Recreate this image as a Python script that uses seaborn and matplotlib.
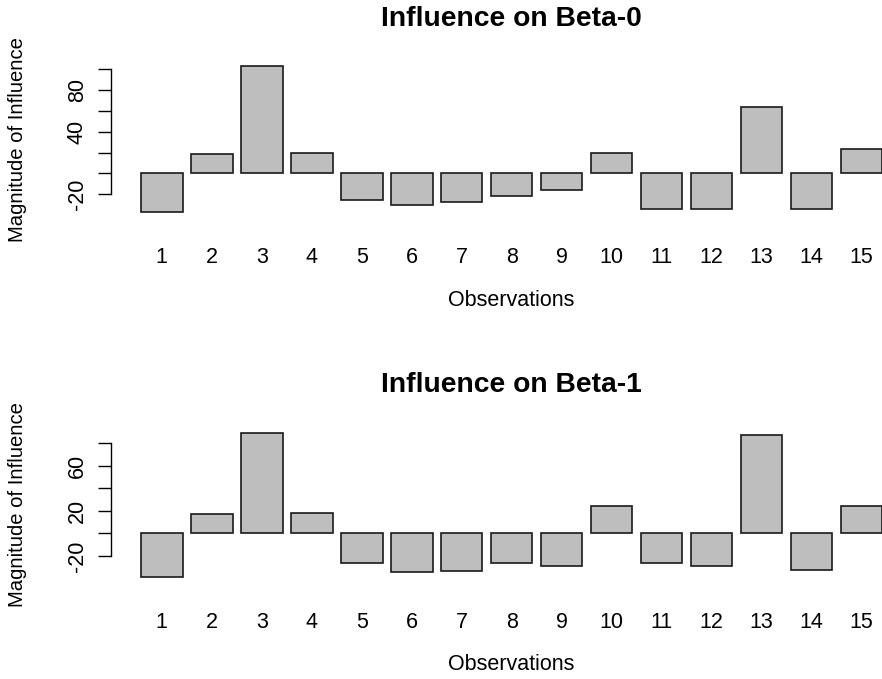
import matplotlib
matplotlib.use("Agg")
import matplotlib.pyplot as plt
import matplotlib.transforms as mtransforms
import pandas as pd
import seaborn as sns

# Influence of each observation on the two regression coefficients
observations = [str(i) for i in range(1, 16)]
beta0_influence = [-37.5, 18.9, 102.9, 19.8, -25.7, -30.5, -27.9, -21.8,
                   -16.0, 19.8, -34.0, -34.0, 64.0, -34.0, 23.7]
beta1_influence = [-38.4, 17.5, 89.0, 17.7, -26.3, -34.0, -33.1, -26.3,
                   -28.6, 24.2, -26.5, -28.6, 87.0, -32.2, 24.2]

titles = ["Influence on Beta-0", "Influence on Beta-1"]
y_ticks = [[-20, 0, 20, 40, 60, 80, 100], [-20, 0, 20, 40, 60, 80]]
y_tick_labels = [["-20", "", "", "40", "", "80", ""],
                 ["-20", "", "20", "", "60", ""]]
x_label = "Observations"
y_label = "Magnitude of Influence"

sns.set_style("white")
plt.rcParams["font.family"] = ["Liberation Sans", "DejaVu Sans"]
plt.rcParams["text.color"] = "black"
plt.rcParams["axes.labelcolor"] = "black"
plt.rcParams["xtick.color"] = "black"
plt.rcParams["ytick.color"] = "black"

W, H = 882, 679
fig = plt.figure(figsize=(W / 100, H / 100), dpi=100)

# panel extents in pixels (left, right, top, bottom)
left_px, right_px = 111.3, 912.0
panels_px = [(60.6, 218.1), (427.0, 582.5)]

series = [beta0_influence, beta1_influence]
for k, (vals, (top_px, bot_px)) in enumerate(zip(series, panels_px)):
    ax = fig.add_axes([left_px / W, 1 - bot_px / H,
                       (right_px - left_px) / W, (bot_px - top_px) / H])
    df = pd.DataFrame({"obs": observations, "value": vals})
    sns.barplot(data=df, x="obs", y="value", order=observations,
                color="#BEBEBE", saturation=1, width=1 / 1.2,
                edgecolor="#1a1a1a", linewidth=1.2, errorbar=None, ax=ax)

    lo, hi = min(min(vals), 0), max(max(vals), 0)
    ext = 0.04 * (hi - lo)
    ax.set_ylim(lo - ext, hi + ext)
    ax.set_xlim(-1.01, 15.01)

    for side in ("top", "right", "bottom"):
        ax.spines[side].set_visible(False)
    ax.spines["left"].set_bounds(y_ticks[k][0], y_ticks[k][-1])
    ax.spines["left"].set_linewidth(1.0)
    ax.spines["left"].set_color("black")

    ax.set_yticks(y_ticks[k])
    ax.set_yticklabels(y_tick_labels[k], rotation=90, va="center")
    ax.tick_params(axis="y", length=9.4, width=1.0, pad=7.5, labelsize=15.5,
                   left=True)
    ax.tick_params(axis="x", length=0, pad=21, labelsize=15.5)

    ax.set_xlabel(x_label, fontsize=15.5, labelpad=15.4)
    ax.set_ylabel(y_label, fontsize=14.6)
    ax.yaxis.set_label_coords(
        27 / W, 0.5,
        transform=mtransforms.blended_transform_factory(fig.transFigure, ax.transAxes))
    ax.set_title(titles[k], fontsize=20.3, fontweight="bold", pad=25)

fig.savefig("out.png", dpi=100)
